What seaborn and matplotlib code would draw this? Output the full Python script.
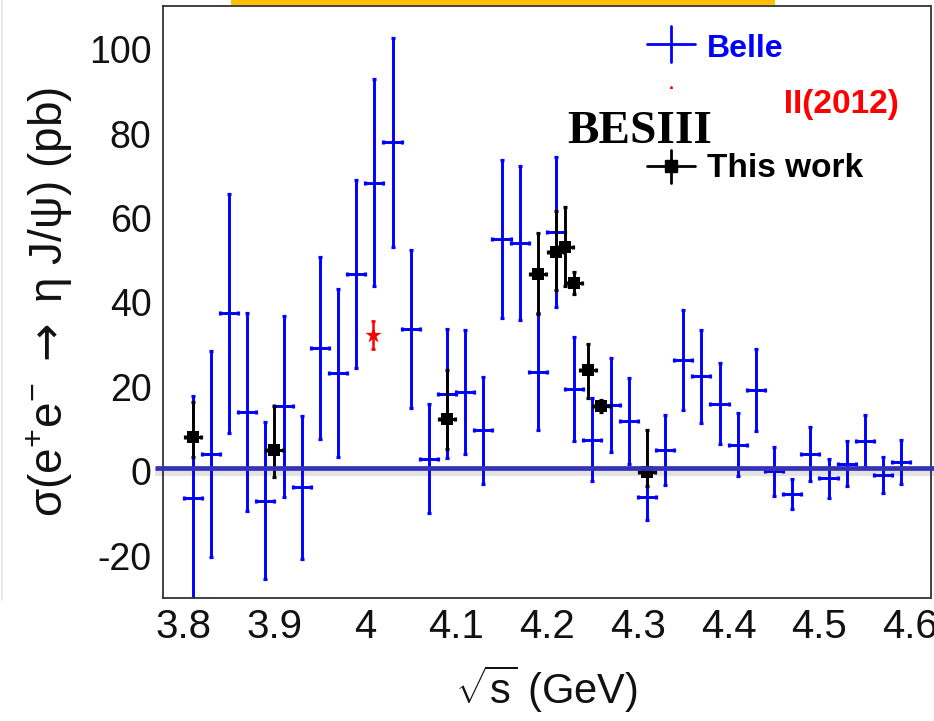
import numpy as np
import matplotlib
matplotlib.use("Agg")
import matplotlib.pyplot as plt
import seaborn as sns
from matplotlib.lines import Line2D
from matplotlib.patches import Rectangle
from matplotlib.ticker import MultipleLocator, FuncFormatter
from matplotlib.transforms import blended_transform_factory
import matplotlib.patheffects as pe

# Belle measurement (ISR), bin centres in GeV, cross section and error in pb
belle_x = [3.81, 3.83, 3.85, 3.87, 3.89, 3.91, 3.93, 3.95, 3.97, 3.99,
           4.01, 4.03, 4.05, 4.07, 4.09, 4.11, 4.13, 4.15, 4.17, 4.19,
           4.21, 4.23, 4.25, 4.27, 4.29, 4.31, 4.33, 4.35, 4.37, 4.39,
           4.41, 4.43, 4.45, 4.47, 4.49, 4.51, 4.53, 4.55, 4.57, 4.59]
belle_y = [-6.3, 4.1, 37.4, 14.1, -7.0, 15.4, -3.8, 29.2, 23.2, 46.8,
           68.4, 77.9, 33.8, 3.0, 18.4, 18.8, 9.7, 55.0, 54.0, 23.6,
           56.6, 19.5, 7.5, 15.7, 11.9, -6.0, 5.0, 26.3, 22.5, 16.0,
           6.3, 19.2, 0.0, -5.3, 4.1, -1.6, 1.8, 7.2, -0.9, 2.2]
belle_err = [24.2, 24.4, 28.3, 23.4, 18.6, 21.4, 16.9, 21.6, 19.9, 22.3,
             24.4, 24.7, 18.7, 12.9, 15.2, 14.7, 12.7, 18.8, 18.2, 13.9,
             17.8, 12.4, 9.9, 11.2, 10.2, 5.5, 8.3, 11.8, 11.0, 9.6,
             7.5, 9.7, 5.8, 3.6, 6.3, 4.6, 5.3, 6.2, 4.2, 5.1]
belle_xerr = 0.01

# BESIII 2012 result at 4.009 GeV
bes12_x = [4.009]
bes12_y = [32.3]
bes12_err = [3.3]

# This work: BESIII scan points
work_x = [3.810, 3.900, 4.090, 4.190, 4.210, 4.220, 4.230, 4.245, 4.260, 4.310]
work_y = [8.2, 5.0, 12.5, 46.7, 52.0, 53.1, 44.5, 24.0, 15.5, -0.1]
work_err_up = [8.1, 10.5, 11.4, 9.8, 9.7, 9.4, 2.6, 6.2, 1.5, 9.9]
work_err_lo = [4.8, 6.3, 7.2, 9.5, 9.1, 9.2, 2.5, 6.7, 1.5, 3.3]
work_xerr = 0.009

# axis ticks
xticks = [3.8, 3.9, 4.0, 4.1, 4.2, 4.3, 4.4, 4.5, 4.6]
yticks = [-20, 0, 20, 40, 60, 80, 100]

sns.set_theme(style="white")
plt.rcParams["font.family"] = ["Liberation Sans", "DejaVu Sans"]
plt.rcParams["mathtext.fontset"] = "custom"
plt.rcParams["mathtext.rm"] = "Liberation Sans"
plt.rcParams["mathtext.it"] = "Liberation Sans:italic"
plt.rcParams["mathtext.bf"] = "Liberation Sans:bold"
plt.rcParams["mathtext.sf"] = "DejaVu Sans"
plt.rcParams["axes.unicode_minus"] = False

W, H = 934, 721
fig = plt.figure(figsize=(W / 100, H / 100), dpi=100)
fig.patch.set_facecolor("white")


def fx(px):
    return px / W


def fy(py):
    return 1 - py / H


ax = fig.add_axes([fx(162.7), fy(598), fx(930.5) - fx(162.7), (598 - 6) / H])
ax.set_facecolor("white")

blue = "#0000FF"

# Belle crosses
ax.errorbar(belle_x, belle_y, xerr=belle_xerr, yerr=belle_err, fmt="none",
            ecolor=blue, elinewidth=2.1, capsize=1.6, capthick=2.3, zorder=2)

# BESIII 2012
ax.errorbar(bes12_x, bes12_y, yerr=bes12_err, fmt="none", ecolor="red",
            elinewidth=1.8, capsize=1.5, capthick=2.0, zorder=3)
sns.scatterplot(x=bes12_x, y=bes12_y, marker="*", s=150, color="red",
                linewidth=0, ax=ax, zorder=4, legend=False)

# This work
ax.errorbar(work_x, work_y, xerr=work_xerr, yerr=[work_err_lo, work_err_up],
            fmt="none", ecolor="black", elinewidth=2.1, capsize=1.6,
            capthick=2.3, zorder=3)
sns.scatterplot(x=work_x, y=work_y, marker="s", s=80, color="black",
                linewidth=0, ax=ax, zorder=4, legend=False)

# reference line near zero
trans = blended_transform_factory(ax.transAxes, ax.transData)
ax.plot([-0.01, 1.005], [0.9, 0.9], transform=trans, clip_on=False,
        color="#3333B8", lw=3.4, zorder=6, solid_capstyle="butt",
        path_effects=[pe.SimpleLineShadow(offset=(0, -3), shadow_color="k",
                                          alpha=0.12, linewidth=6),
                      pe.Normal()])

ax.set_xlim(3.777, 4.6222)
ax.set_ylim(-30, 110.2)
ax.xaxis.set_minor_locator(MultipleLocator(0.02))
ax.yaxis.set_minor_locator(MultipleLocator(5))
ax.set_xticks(xticks)
ax.set_yticks(yticks)
ax.xaxis.set_major_formatter(FuncFormatter(lambda v, p: f"{v:g}"))
ax.yaxis.set_major_formatter(FuncFormatter(lambda v, p: f"{v:g}"))

ax.tick_params(which="both", direction="in", top=False, right=False,
               color="#444444", width=1.0)
ax.tick_params(axis="y", which="major", length=15.8, pad=8, labelsize=27,
               labelcolor="#111111")
ax.tick_params(axis="y", which="minor", length=8.6)
ax.tick_params(axis="x", which="major", length=13, pad=7, labelsize=29,
               labelcolor="#111111")
ax.tick_params(axis="x", which="minor", length=5.8)

for sp in ax.spines.values():
    sp.set_color("#333333")
    sp.set_linewidth(1.3)

ax.set_xlabel(r"$\sqrt{\mathrm{s}}$ (GeV)", fontsize=30, color="#111111",
              labelpad=13)
ax.set_ylabel(r"σ(e$^{+}$e$^{-}$ $\mathsf{\rightarrow}$ η J/ψ) (pb)",
              fontsize=33, color="#111111", labelpad=10)

# legend entries
fig.add_artist(Line2D([fx(647), fx(695)], [fy(44), fy(44)], color=blue, lw=2))
fig.add_artist(Line2D([fx(671), fx(671)], [fy(26), fy(62)], color=blue, lw=2))
fig.text(fx(707), fy(57), "Belle", ha="left", va="baseline", fontsize=23,
         fontweight="bold", color=blue, zorder=3)

fig.add_artist(Line2D([fx(671), fx(671)], [fy(87), fy(115)], color="red",
                      lw=2, zorder=3))
fig.add_artist(Line2D([fx(671)], [fy(101)], marker="*", ms=12, color="red",
                      lw=0, zorder=3))
fig.text(fx(707), fy(113), "BESIII(2012)", ha="left", va="baseline",
         fontsize=24, fontweight="bold", color="red", zorder=3)
fig.add_artist(Rectangle((fx(550), fy(148)), fx(786) - fx(550), (148 - 88.5) / H,
                         transform=fig.transFigure, facecolor="white",
                         edgecolor="none", zorder=4))
fig.text(fx(567), fy(143), "BESIII", ha="left", va="baseline", fontsize=34,
         fontweight="bold", family="Liberation Serif", color="black", zorder=5)

fig.add_artist(Line2D([fx(647), fx(695)], [fy(166), fy(166)], color="black",
                      lw=2, zorder=3))
fig.add_artist(Line2D([fx(671), fx(671)], [fy(150), fy(183)], color="black",
                      lw=2, zorder=3))
fig.add_artist(Line2D([fx(671)], [fy(166)], marker="s", ms=9, color="black",
                      lw=0, zorder=3))
fig.text(fx(707), fy(177), "This work", ha="left", va="baseline", fontsize=24,
         fontweight="bold", color="black", zorder=3)

# banner strip and page edge
fig.add_artist(Rectangle((fx(231), fy(5)), fx(775) - fx(231), 5 / H,
                         transform=fig.transFigure, facecolor="#FFC000",
                         edgecolor="none", zorder=3))
fig.add_artist(Line2D([fx(1.5), fx(1.5)], [fy(0), fy(600)], color="#e4e4e4",
                      lw=1.2, zorder=1))

fig.savefig("out.png", dpi=100)
